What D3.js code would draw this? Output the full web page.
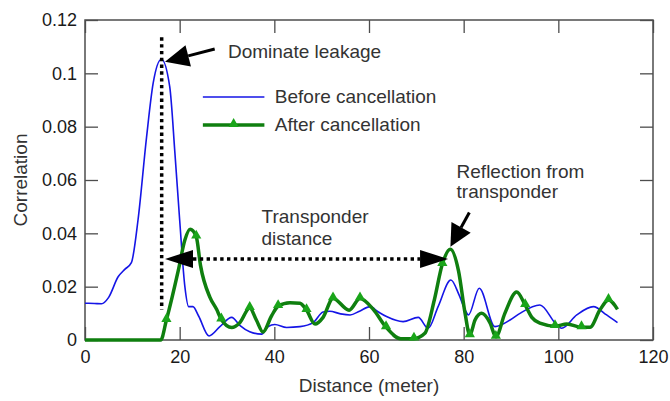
<!DOCTYPE html>
<html>
<head>
<meta charset="utf-8">
<script src="https://cdn.jsdelivr.net/npm/d3@7"></script>
<style>
  body { margin: 0; background: #fff; }
  text { font-family: "Liberation Sans", Arial, sans-serif; }
</style>
</head>
<body>
<div id="chart"></div>
<script>
// data
const beforeX = [0, 2, 3.5, 5, 7, 8.4, 9.8, 11.2, 13, 14.4, 16.15, 17.9, 19, 20, 21.1, 21.9, 22.8, 24, 26.2, 28.5, 31, 32.7, 34.8, 37.3, 38.7, 40.1, 42.6, 45.4, 48.2, 50.3, 51.7, 54, 56, 58, 60.2, 62, 63.7, 67.2, 70.4, 72.5, 74.6, 77.3, 79, 80.3, 81, 83.3, 86.6, 89.8, 91.9, 96.1, 99.7, 100.7, 103.9, 107.4, 110.2, 112.5];
const beforeY = [0.0138, 0.0137, 0.0136, 0.016, 0.0237, 0.0265, 0.029, 0.045, 0.076, 0.0963, 0.1053, 0.095, 0.07, 0.045, 0.02, 0.0125, 0.0125, 0.009, 0.0015, 0.005, 0.0085, 0.0055, 0.0031, 0.0022, 0.005, 0.0058, 0.0047, 0.005, 0.0065, 0.0105, 0.0108, 0.0098, 0.0094, 0.0108, 0.0125, 0.0105, 0.0088, 0.0069, 0.0085, 0.0044, 0.0125, 0.0225, 0.017, 0.0113, 0.0094, 0.0194, 0.005, 0.0075, 0.01, 0.0131, 0.0056, 0.0044, 0.0094, 0.0125, 0.0094, 0.0065];

const afterX = [0, 16, 17.2, 19.7, 21.1, 22.2, 23.5, 24.4, 26.4, 27.8, 28.8, 31, 32.7, 34.8, 36.2, 37.6, 39.4, 40.8, 43.3, 45.4, 46.8, 48.6, 50.3, 52.4, 55.8, 58.1, 60.9, 63.6, 66.7, 69.5, 71.8, 73.8, 75.5, 77.2, 78.9, 80.3, 81.3, 82.4, 83.8, 85.6, 86.8, 88.7, 91.2, 93, 94.4, 96.1, 99.3, 101.8, 104.9, 106.7, 108.8, 110.6, 112.5];
const afterY = [0, 0, 0.0075, 0.026, 0.0375, 0.0415, 0.0388, 0.028, 0.016, 0.0115, 0.0077, 0.0047, 0.0065, 0.012, 0.0075, 0.003, 0.009, 0.0127, 0.014, 0.0138, 0.0112, 0.006, 0.0085, 0.0156, 0.0112, 0.0156, 0.0115, 0.0048, 0.0005, 0.0005, 0.0025, 0.015, 0.0285, 0.034, 0.026, 0.01, 0.0018, 0.0075, 0.01, 0.0063, 0.0012, 0.01, 0.018, 0.0131, 0.0085, 0.0063, 0.0052, 0.006, 0.0048, 0.0048, 0.0113, 0.015, 0.0115];
// which points of the "after" series carry a triangle marker
const afterMarkers = [2, 6, 10, 13, 17, 20, 23, 25, 27, 29, 32, 36, 40, 43, 46, 48, 51];

const xTicks = [0, 20, 40, 60, 80, 100, 120];
const yTicks = [0, 0.02, 0.04, 0.06, 0.08, 0.1, 0.12];
const yTickLabels = ["0", "0.02", "0.04", "0.06", "0.08", "0.1", "0.12"];
const seriesNames = ["Before cancellation", "After cancellation"];

const W = 670, H = 401;
const margin = { top: 20, right: 17, bottom: 61, left: 85 },
      width = W - margin.left - margin.right,
      height = H - margin.top - margin.bottom;

const blue = "#1515e6", green = "#0f7f0f", marker = "#1aa51a", frame = "#4d4d4d";
const labelSize = "19px";

const svg = d3.select("#chart").append("svg")
    .attr("width", W).attr("height", H)
    .append("g")
    .attr("transform", `translate(${margin.left},${margin.top})`);

const x = d3.scaleLinear().domain([0, 120]).range([0, width]);
const y = d3.scaleLinear().domain([0, 0.12]).range([height, 0]);

// axes, ticks point inward on all four sides
const axisStyle = g => {
    g.select(".domain").remove();
    g.selectAll(".tick line").attr("stroke", frame).attr("stroke-width", 1.3);
    g.selectAll(".tick text").attr("fill", "#1a1a1a").style("font-size", "18px")
        .style("font-family", "'Liberation Sans', Arial, sans-serif");
};
svg.append("g").attr("transform", `translate(0,${height})`)
    .call(d3.axisBottom(x).tickValues(xTicks).tickSize(-13).tickPadding(10))
    .call(axisStyle);
svg.append("g")
    .call(d3.axisLeft(y).tickValues(yTicks).tickSize(-13).tickPadding(8)
        .tickFormat((d, i) => yTickLabels[i]))
    .call(axisStyle);
svg.append("g")
    .call(d3.axisTop(x).tickValues(xTicks).tickSize(-13).tickFormat(""))
    .call(axisStyle);
svg.append("g").attr("transform", `translate(${width},0)`)
    .call(d3.axisRight(y).tickValues(yTicks).tickSize(-13).tickFormat(""))
    .call(axisStyle);

svg.append("rect")
    .attr("width", width).attr("height", height)
    .attr("fill", "none").attr("stroke", frame).attr("stroke-width", 1.5);

// lines
const before = beforeX.map((d, i) => [d, beforeY[i]]);
const after = afterX.map((d, i) => [d, afterY[i]]);
const line = d3.line().x(d => x(d[0])).y(d => y(d[1])).curve(d3.curveMonotoneX);

svg.append("path").datum(before)
    .attr("d", line).attr("fill", "none")
    .attr("stroke", blue).attr("stroke-width", 1.6);

svg.append("path").datum(after)
    .attr("d", line).attr("fill", "none")
    .attr("stroke", green).attr("stroke-width", 3.5).attr("stroke-linejoin", "round");

const tri = d3.symbol().type(d3.symbolTriangle).size(45);
svg.selectAll(".mk")
    .data(afterMarkers.map(i => after[i]))
    .enter().append("path")
    .attr("class", "mk")
    .attr("d", tri)
    .attr("transform", d => `translate(${x(d[0])},${y(d[1]) - 1})`)
    .attr("fill", marker);

// annotations (text baselines given in page pixels)
const ann = svg.append("g");
const txt = (tx, ty, s) => ann.append("text")
    .attr("x", tx).attr("y", ty - margin.top).attr("fill", "#333")
    .style("font-size", labelSize).text(s);

function head(x1, y1, x2, y2, len, half) {
    // triangle with tip at (x2,y2), pointing away from (x1,y1)
    const a = Math.atan2(y2 - y1, x2 - x1);
    const bx = x2 - len * Math.cos(a), by = y2 - len * Math.sin(a);
    const nx = -Math.sin(a) * half, ny = Math.cos(a) * half;
    ann.append("path")
        .attr("d", `M${x2},${y2}L${bx + nx},${by + ny}L${bx - nx},${by - ny}Z`)
        .attr("fill", "#000");
    return [bx, by];
}

// dominate leakage: vertical dotted line and arrow
ann.append("line")
    .attr("x1", x(16.2)).attr("x2", x(16.2))
    .attr("y1", y(0.1135)).attr("y2", y(0.0113))
    .attr("stroke", "#000").attr("stroke-width", 3.5).attr("stroke-dasharray", "3.4,3.4");

{
    const [x1, y1, x2, y2] = [x(27.4), y(0.1091), x(16.9), y(0.1043)];
    const [bx, by] = head(x1, y1, x2, y2, 24, 11);
    ann.append("line").attr("x1", x1).attr("y1", y1).attr("x2", bx).attr("y2", by)
        .attr("stroke", "#000").attr("stroke-width", 3);
}
txt(x(30.2), 58, "Dominate leakage");

// transponder distance: dotted double arrow
{
    const yy = y(0.0304);
    const [lx] = head(x(76.7), yy, x(16.9), yy, 28, 9);
    const [rx] = head(x(16.9), yy, x(76.7), yy, 28, 9);
    ann.append("line").attr("x1", lx).attr("x2", rx).attr("y1", yy).attr("y2", yy)
        .attr("stroke", "#000").attr("stroke-width", 3.5).attr("stroke-dasharray", "3.4,3.4");
}
txt(x(37.3), 223, "Transponder");
txt(x(37.3), 245, "distance");

// reflection arrow
{
    const [x1, y1, x2, y2] = [x(81.2), y(0.0478), x(77.2), y(0.035)];
    const [bx, by] = head(x1, y1, x2, y2, 22, 11);
    ann.append("line").attr("x1", x1).attr("y1", y1).attr("x2", bx).attr("y2", by)
        .attr("stroke", "#000").attr("stroke-width", 3);
}
txt(x(78.5), 178, "Reflection from");
txt(x(78.5), 198, "transponder");

// legend
const leg = svg.append("g");
const lx0 = x(24.9), lx1 = x(37.9), ltx = x(40.1);
leg.append("line").attr("x1", lx0).attr("x2", lx1).attr("y1", 77).attr("y2", 77)
    .attr("stroke", blue).attr("stroke-width", 1.6);
leg.append("text").attr("x", ltx).attr("y", 83).attr("fill", "#333")
    .style("font-size", labelSize).text(seriesNames[0]);
leg.append("line").attr("x1", lx0).attr("x2", lx1).attr("y1", 105).attr("y2", 105)
    .attr("stroke", green).attr("stroke-width", 3.5);
leg.append("path").attr("d", tri)
    .attr("transform", `translate(${(lx0 + lx1) / 2},104)`).attr("fill", marker);
leg.append("text").attr("x", ltx).attr("y", 111).attr("fill", "#333")
    .style("font-size", labelSize).text(seriesNames[1]);

// axis labels
svg.append("text")
    .attr("text-anchor", "middle")
    .attr("x", width / 2).attr("y", height + 52)
    .attr("fill", "#333").style("font-size", labelSize)
    .text("Distance (meter)");

svg.append("text")
    .attr("text-anchor", "middle")
    .attr("transform", "rotate(-90)")
    .attr("x", -height / 2).attr("y", -58)
    .attr("fill", "#333").style("font-size", labelSize)
    .text("Correlation");
</script>
</body>
</html>
